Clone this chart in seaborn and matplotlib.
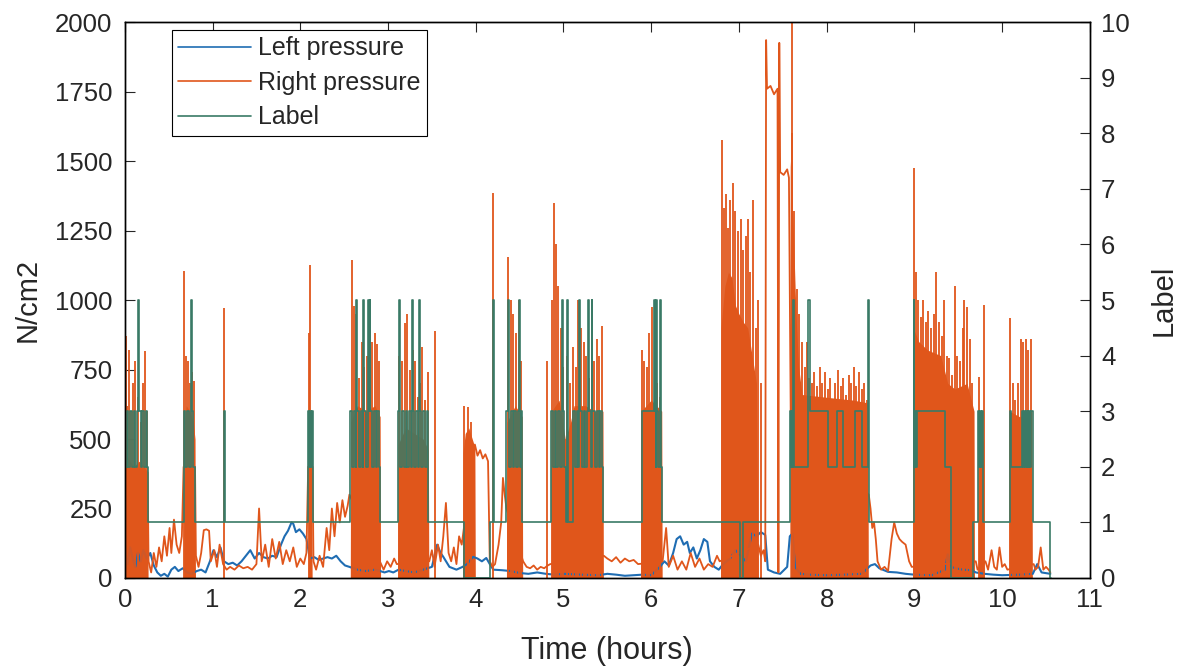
import numpy as np
import pandas as pd
import matplotlib
matplotlib.use("Agg")
import matplotlib.pyplot as plt
from matplotlib.lines import Line2D
import seaborn as sns

# Left foot pressure (N/cm2) over time (hours)
left_t = [0.00, 0.03, 0.06, 0.09, 0.12, 0.15, 0.18, 0.21, 0.25, 0.29, 0.33, 0.37, 0.41, 0.45, 0.49,
          0.53, 0.57, 0.61, 0.66, 0.71, 0.76, 0.82, 0.87, 0.92, 0.97, 1.01, 1.05, 1.09, 1.13, 1.18,
          1.23, 1.28, 1.33, 1.38, 1.43, 1.48, 1.53, 1.58, 1.63, 1.68, 1.73, 1.78, 1.82, 1.86, 1.90,
          1.92, 1.95, 1.99, 2.03, 2.07, 2.11, 2.16, 2.21, 2.26, 2.31, 2.36, 2.41, 2.46, 2.51, 2.56,
          2.65, 2.75, 2.85, 2.91, 2.96, 3.01, 3.06, 3.12, 3.20, 3.30, 3.40, 3.50, 3.56, 3.60, 3.63,
          3.70, 3.78, 3.85, 3.90, 3.97, 4.02, 4.07, 4.12, 4.16, 4.20, 4.30, 4.40, 4.50, 4.60, 4.70,
          4.80, 4.90, 5.00, 5.20, 5.40, 5.50, 5.60, 5.70, 5.80, 5.90, 6.00, 6.10, 6.15, 6.20, 6.25,
          6.29, 6.33, 6.37, 6.41, 6.44, 6.48, 6.52, 6.56, 6.60, 6.64, 6.67, 6.72, 6.77, 6.82, 6.90,
          6.96, 7.02, 7.08, 7.12, 7.15, 7.20, 7.25, 7.30, 7.33, 7.40, 7.47, 7.55, 7.58, 7.61, 7.64,
          7.70, 7.80, 8.00, 8.20, 8.40, 8.50, 8.55, 8.60, 8.70, 8.80, 8.90, 9.00, 9.20, 9.35, 9.38,
          9.42, 9.47, 9.55, 9.65, 9.70, 9.80, 9.90, 10.00, 10.20, 10.35, 10.40, 10.45, 10.55]
left_v = [90, 50, 110, 70, 40, 90, 60, 100, 70, 90, 45, 20, 8, 15, 5,
          30, 40, 25, 35, 20, 15, 25, 30, 20, 60, 100, 75, 110, 60, 50,
          55, 45, 60, 80, 100, 70, 90, 75, 70, 80, 75, 120, 150, 170, 200,
          195, 165, 175, 160, 140, 70, 75, 65, 70, 75, 70, 80, 60, 45, 40,
          30, 25, 30, 25, 20, 25, 20, 30, 25, 20, 30, 40, 120, 90, 76,
          40, 30, 40, 50, 76, 70, 60, 72, 50, 30, 28, 25, 18, 15, 20,
          15, 12, 15, 12, 10, 15, 12, 8, 10, 12, 10, 40, 60, 45, 90,
          140, 150, 120, 130, 90, 110, 70, 100, 140, 130, 60, 40, 30, 50, 70,
          100, 80, 60, 120, 160, 150, 165, 155, 30, 20, 15, 40, 150, 160, 40,
          15, 12, 10, 12, 15, 45, 50, 35, 22, 20, 15, 12, 10, 30, 85,
          40, 35, 30, 28, 20, 15, 12, 10, 12, 15, 50, 20, 15]

# Right foot pressure: slow part of the signal between the walking bursts
right_t = [0.00, 0.26, 0.27, 0.30, 0.33, 0.36, 0.39, 0.42, 0.45, 0.48, 0.51, 0.53, 0.56, 0.59, 0.62,
           0.65, 0.67, 0.80, 0.81, 0.84, 0.87, 0.90, 0.93, 0.96, 0.98, 1.02, 1.05, 1.08, 1.12, 1.16,
           1.20, 1.25, 1.30, 1.35, 1.40, 1.45, 1.50, 1.53, 1.56, 1.60, 1.64, 1.68, 1.72, 1.76, 1.80,
           1.84, 1.88, 1.92, 1.96, 2.00, 2.04, 2.07, 2.09, 2.14, 2.15, 2.18, 2.22, 2.26, 2.30, 2.33,
           2.36, 2.39, 2.42, 2.45, 2.48, 2.51, 2.54, 2.56, 2.92, 2.95, 2.99, 3.03, 3.07, 3.10, 3.47,
           3.50, 3.53, 3.57, 3.60, 3.63, 3.66, 3.69, 3.72, 3.75, 3.78, 3.81, 3.84, 3.99, 4.02, 4.05,
           4.08, 4.11, 4.14, 4.16, 4.19, 4.22, 4.26, 4.29, 4.31, 4.33, 4.35, 4.54, 4.58, 4.62, 4.66,
           4.70, 4.74, 4.78, 4.82, 4.85, 5.46, 5.50, 5.55, 5.60, 5.65, 5.70, 5.75, 5.80, 5.85, 6.13,
           6.17, 6.20, 6.25, 6.30, 6.35, 6.40, 6.45, 6.50, 6.55, 6.60, 6.65, 6.70, 6.75, 6.78, 7.22,
           7.25, 7.28, 7.30, 7.31, 7.32, 7.36, 7.40, 7.44, 7.45, 7.46, 7.47, 7.51, 7.55, 7.57, 7.59,
           8.48, 8.50, 8.52, 8.54, 8.56, 8.58, 8.62, 8.66, 8.70, 8.74, 8.77, 8.80, 8.83, 8.86, 8.90,
           8.94, 8.97, 9.70, 9.72, 9.81, 9.84, 9.88, 9.91, 9.94, 9.97, 10.00, 10.03, 10.06, 10.36, 10.38,
           10.41, 10.44, 10.47, 10.50, 10.53, 10.55]
right_v = [400, 380, 60, 20, 90, 40, 110, 60, 150, 80, 180, 90, 210, 120, 90,
           150, 400, 400, 80, 40, 90, 172, 175, 170, 60, 100, 40, 120, 50, 30,
           40, 30, 45, 35, 40, 30, 50, 250, 60, 120, 40, 140, 70, 130, 50,
           100, 60, 110, 40, 70, 50, 90, 400, 400, 60, 30, 80, 40, 180, 100,
           250, 150, 270, 200, 280, 220, 260, 300, 50, 30, 60, 40, 70, 50, 60,
           100, 40, 120, 60, 150, 270, 90, 60, 110, 50, 150, 120, 480, 440, 460,
           430, 445, 420, 60, 40, 50, 120, 200, 360, 300, 250, 60, 40, 35, 45,
           30, 40, 35, 45, 50, 80, 70, 60, 75, 55, 70, 60, 65, 50, 60,
           180, 40, 80, 30, 60, 30, 90, 40, 70, 30, 50, 40, 80, 60, 120,
           80, 100, 60, 1935, 1760, 1770, 1740, 1760, 20, 1925, 1460, 1450, 1470, 1440, 600,
           300, 250, 180, 200, 140, 60, 30, 40, 25, 140, 200, 160, 140, 130, 120,
           60, 40, 60, 30, 60, 30, 100, 40, 30, 110, 40, 50, 30, 50, 30,
           40, 110, 30, 40, 30, 20]

# Right foot pressure: dense level reached during each walking burst
burst_t = [0.00, 0.04, 0.10, 0.16, 0.22, 0.26, 0.265,
           0.67, 0.675, 0.70, 0.74, 0.78, 0.80, 0.805,
           2.09, 2.095, 2.13, 2.135,
           2.57, 2.575, 2.65, 2.75, 2.85, 2.91, 2.915,
           3.11, 3.115, 3.20, 3.30, 3.40, 3.46, 3.465,
           3.85, 3.855, 3.88, 3.92, 3.96, 3.99, 3.995,
           4.35, 4.355, 4.45, 4.53, 4.535,
           4.86, 4.865, 4.95, 5.02, 5.08, 5.12, 5.25, 5.35, 5.45, 5.455,
           5.88, 5.885, 6.00, 6.12, 6.125,
           6.79, 6.795, 6.84, 6.88, 6.92, 6.96, 7.00, 7.05, 7.10, 7.15, 7.20, 7.22,
           7.58, 7.585, 7.62, 7.65, 7.68, 7.72, 8.00, 8.30, 8.47, 8.475,
           8.98, 8.985, 9.05, 9.15, 9.30, 9.38, 9.46, 9.60, 9.68, 9.685,
           9.73, 9.735, 9.79, 9.795,
           10.08, 10.085, 10.20, 10.34, 10.345]
burst_v = [450, 430, 400, 420, 400, 380, 0,
           0, 550, 620, 600, 560, 500, 0,
           0, 420, 400, 0,
           0, 560, 620, 600, 620, 580, 0,
           0, 480, 540, 520, 500, 460, 0,
           0, 450, 520, 540, 500, 470, 0,
           0, 560, 620, 580, 0,
           0, 600, 640, 500, 560, 620, 620, 600, 600, 0,
           0, 600, 640, 600, 0,
           0, 900, 1050, 1100, 1080, 980, 950, 920, 900, 800, 700, 0,
           0, 1500, 1250, 950, 760, 660, 650, 640, 630, 0,
           0, 900, 850, 820, 800, 700, 680, 700, 600, 0,
           0, 450, 500, 0,
           0, 600, 580, 600, 0]

# Right foot pressure: individual peaks above the dense level
peak_t = [0.01, 0.03, 0.05, 0.07, 0.09, 0.12, 0.15, 0.18, 0.21, 0.23, 0.25,
          0.68, 0.70, 0.72, 0.74, 0.76, 0.79, 1.13, 2.10, 2.11,
          2.585, 2.61, 2.64, 2.67, 2.70, 2.73, 2.76, 2.79, 2.82, 2.85, 2.88, 2.90,
          3.13, 3.16, 3.19, 3.22, 3.25, 3.28, 3.31, 3.34, 3.37, 3.39, 3.42, 3.46, 3.53,
          3.87, 3.91, 3.95, 4.20,
          4.37, 4.40, 4.43, 4.46, 4.49, 4.52, 4.81,
          4.87, 4.89, 4.91, 4.94, 4.97, 5.00, 5.04, 5.08, 5.11, 5.14, 5.17, 5.20, 5.23, 5.26,
          5.29, 5.32, 5.35, 5.38, 5.41, 5.44,
          5.89, 5.92, 5.95, 5.98, 6.01, 6.04, 6.07, 6.10,
          6.81, 6.83, 6.85, 6.87, 6.90, 6.93, 6.96, 6.99, 7.02, 7.05, 7.08, 7.10, 7.13, 7.16,
          7.19, 7.22, 7.25, 7.60,
          7.61, 7.63, 7.66, 7.69, 7.72, 7.75, 7.78, 7.80, 7.83, 7.86, 7.89, 7.92, 7.95, 7.98,
          8.01, 8.04, 8.07, 8.10, 8.13, 8.16, 8.19, 8.22, 8.25, 8.28, 8.31, 8.34, 8.37, 8.40,
          8.43, 8.46,
          9.00, 9.02, 9.04, 9.07, 9.10, 9.13, 9.16, 9.19, 9.22, 9.25, 9.28, 9.31, 9.34, 9.37,
          9.40, 9.43, 9.46, 9.49, 9.52, 9.55, 9.57, 9.60, 9.63, 9.66,
          9.74, 9.79,
          10.09, 10.12, 10.15, 10.18, 10.21, 10.24, 10.27, 10.30, 10.33]
peak_v = [870, 620, 820, 600, 700, 780, 650, 560, 700, 815, 600,
          1105, 800, 780, 700, 740, 710, 970, 880, 1125,
          1144, 980, 950, 720, 850, 760, 800, 790, 850, 880, 840, 780,
          800, 780, 917, 950, 750, 820, 780, 650, 700, 830, 640, 740, 890,
          620, 615, 560, 1385,
          1155, 1000, 950, 880, 1000, 780, 780,
          1000, 1350, 1200, 1050, 900, 760, 800, 700, 830, 760, 1000, 900, 850, 800,
          720, 650, 780, 860, 800, 905,
          820, 780, 760, 880, 975, 800, 700, 650,
          1575, 1330, 1380, 1260, 1360, 1420, 1320, 1250, 1290, 1180, 1230, 1290, 1100, 1360,
          900, 1000, 700, 2050,
          1600, 1320, 1040, 950, 850, 760, 850, 720, 700, 740, 690, 760, 700, 740,
          680, 720, 640, 700, 750, 690, 720, 660, 730, 700, 760, 690, 740, 680,
          700, 640,
          1475, 1100, 1000, 940, 1000, 920, 960, 900, 950, 1100, 920, 870, 1000, 800,
          790, 730, 1050, 800, 780, 900, 1000, 975, 860, 700,
          723, 982,
          935, 700, 640, 700, 860, 850, 860, 820, 860]

# Activity label (right axis), value held until the next change
label_t = [0.00, 0.02, 0.04, 0.06, 0.08, 0.10, 0.12, 0.14, 0.15, 0.16, 0.18, 0.20, 0.22, 0.24, 0.25, 0.26,
           0.67, 0.69, 0.71, 0.73, 0.75, 0.76, 0.78, 0.80,
           1.13, 1.14,
           2.09, 2.10, 2.11, 2.12, 2.13, 2.14,
           2.57, 2.59, 2.61, 2.63, 2.64, 2.65, 2.67, 2.69, 2.71, 2.72, 2.73, 2.75, 2.77, 2.78, 2.79,
           2.80, 2.82, 2.84, 2.86, 2.88, 2.90, 2.91,
           3.11, 3.13, 3.14, 3.16, 3.18, 3.20, 3.22, 3.24, 3.26, 3.27, 3.28, 3.30, 3.32, 3.34, 3.35,
           3.36, 3.38, 3.40, 3.42, 3.44, 3.46,
           3.87, 4.16, 4.20, 4.21,
           4.35, 4.37, 4.38, 4.40, 4.42, 4.44, 4.46, 4.48, 4.49, 4.50, 4.52, 4.53,
           4.86, 4.88, 4.90, 4.92, 4.94, 4.96, 4.98, 4.99, 5.01, 5.03, 5.04, 5.05, 5.11, 5.13, 5.15,
           5.17, 5.18, 5.19, 5.21, 5.23, 5.25, 5.27, 5.28, 5.29, 5.31, 5.32, 5.33, 5.36, 5.38, 5.40,
           5.42, 5.44, 5.45,
           5.89, 6.03, 6.04, 6.05, 6.06, 6.07, 6.08, 6.10, 6.11, 6.12,
           7.01, 7.05,
           7.58, 7.59, 7.60, 7.61, 7.62, 7.63, 7.79, 7.81, 8.02, 8.12, 8.19, 8.32, 8.40, 8.47, 8.48,
           8.99, 9.00, 9.01, 9.02, 9.03, 9.35, 9.42, 9.67, 9.73, 9.74, 9.75, 9.76, 9.77, 9.78,
           10.09, 10.10, 10.23, 10.24, 10.25, 10.26, 10.27, 10.28, 10.29, 10.30, 10.31, 10.32, 10.33,
           10.35, 10.55, 10.56]
label_v = [2, 3, 2, 3, 2, 3, 2, 3, 5, 3, 2, 3, 2, 3, 2, 1,
           3, 2, 3, 2, 5, 3, 2, 1,
           3, 1,
           3, 2, 3, 2, 3, 1,
           3, 2, 3, 2, 5, 3, 2, 3, 2, 5, 3, 2, 5, 3, 5,
           3, 2, 3, 2, 3, 2, 1,
           3, 5, 2, 3, 2, 3, 2, 3, 2, 5, 3, 2, 3, 2, 5,
           3, 2, 3, 2, 3, 1,
           0, 1, 5, 1,
           3, 5, 2, 3, 2, 3, 2, 3, 5, 2, 3, 1,
           3, 2, 3, 2, 3, 2, 5, 3, 2, 1, 5, 1, 3, 2, 3,
           2, 5, 3, 2, 3, 2, 3, 5, 3, 2, 5, 3, 2, 3, 2,
           3, 2, 1,
           3, 5, 3, 2, 5, 3, 2, 5, 2, 1,
           0, 1,
           3, 2, 3, 2, 5, 2, 5, 3, 2, 3, 2, 3, 2, 5, 1,
           5, 2, 3, 2, 3, 2, 0, 1, 3, 2, 3, 2, 3, 1,
           3, 2, 3, 2, 3, 2, 3, 2, 3, 2, 3, 2, 3,
           1, 0, 0]

c_left = "#1f6db3"
c_right = "#e0561b"
c_label = "#3a7a66"

sns.set_style("white")
plt.rcParams["font.family"] = ["Liberation Sans", "DejaVu Sans"]

fig = plt.figure(figsize=(11.89, 6.71), dpi=100)
ax = fig.add_axes([0.105, 0.1386, 0.8116, 0.8286])

left_df = pd.DataFrame({"t": left_t, "v": left_v})
right_df = pd.DataFrame({"t": right_t, "v": right_v})

sns.lineplot(data=left_df, x="t", y="v", ax=ax, color=c_left, linewidth=1.5,
             estimator=None, sort=False)
ax.fill_between(burst_t, 0, burst_v, color=c_right, linewidth=0)
ax.vlines(peak_t, 0, peak_v, color=c_right, linewidth=1.3)
sns.lineplot(data=right_df, x="t", y="v", ax=ax, color=c_right, linewidth=1.3,
             estimator=None, sort=False)

ax.set_xlim(0, 11)
ax.set_ylim(0, 2000)
ax.set_xticks(range(0, 12))
ax.set_yticks(range(0, 2001, 250))
ax.set_xlabel("Time (hours)", fontsize=22)
ax.set_ylabel("N/cm2", fontsize=21)
ax.xaxis.set_label_coords(0.5, -0.105)
ax.yaxis.set_label_coords(-0.086, 0.5)
ax.tick_params(axis="both", direction="in", length=7, labelsize=18.5, top=True, right=False)
ax.tick_params(axis="x", pad=7)
ax.tick_params(axis="y", pad=9)

ax2 = ax.twinx()
label_df = pd.DataFrame({"t": label_t, "v": label_v})
sns.lineplot(data=label_df, x="t", y="v", ax=ax2, color=c_label, linewidth=1.2,
             estimator=None, sort=False, drawstyle="steps-post")
ax2.set_ylim(0, 10)
ax2.set_yticks(range(0, 11))
ax2.set_ylabel("Label", fontsize=21)
ax2.yaxis.set_label_coords(1.062, 0.5)
ax2.tick_params(axis="y", direction="in", length=7, labelsize=18.5, pad=8)

for a in (ax, ax2):
    for s in a.spines.values():
        s.set_color("black")
        s.set_linewidth(1.0)

handles = [Line2D([], [], color=c_left, linewidth=1.2),
           Line2D([], [], color=c_right, linewidth=1.2),
           Line2D([], [], color=c_label, linewidth=1.2)]
leg = ax2.legend(handles, ["Left pressure", "Right pressure", "Label"],
                 loc="upper left", bbox_to_anchor=(0.0487, 0.9856), borderaxespad=0,
                 fontsize=18, frameon=True, fancybox=False, edgecolor="black",
                 framealpha=1, handlelength=2.9, borderpad=0.25, labelspacing=0.42,
                 handletextpad=0.3)
leg.get_frame().set_linewidth(0.8)

fig.savefig("out.png", dpi=100)
